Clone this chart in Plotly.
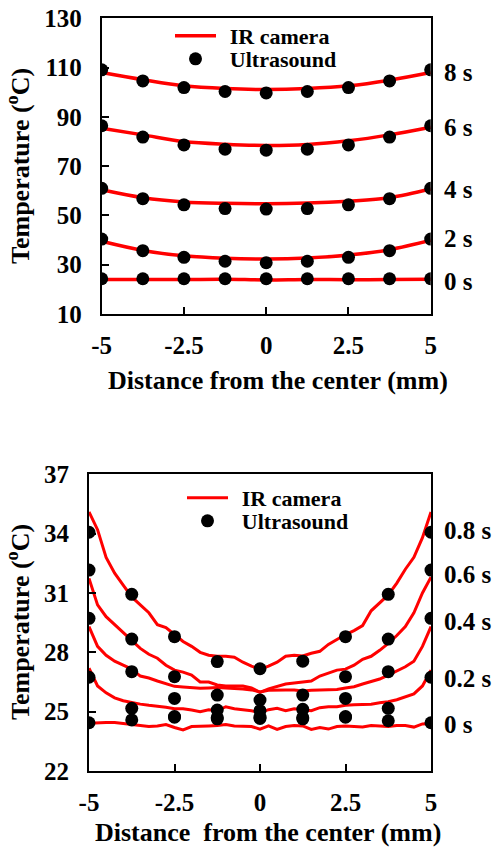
import plotly.graph_objects as go

# ---------------- data ----------------
x_pos = [-5, -3.75, -2.5, -1.25, 0, 1.25, 2.5, 3.75, 5]
x_ticks = [-5, -2.5, 0, 2.5, 5]
x_tick_text = ["-5", "-2.5", "0", "2.5", "5"]

# Top panel (0-8 s)
top_times = ["8 s", "6 s", "4 s", "2 s", "0 s"]
top_label_y = [108.2, 85.5, 60.4, 40.5, 23.1]
top_us = [
    [109.1, 104.6, 101.9, 100.3, 99.7, 100.3, 101.9, 104.6, 109.1],
    [86.4, 81.8, 78.6, 76.9, 76.5, 76.9, 78.6, 81.8, 86.4],
    [61.0, 56.8, 54.3, 52.8, 52.6, 52.8, 54.3, 56.8, 61.0],
    [40.4, 35.7, 33.0, 31.4, 30.8, 31.4, 33.0, 35.7, 40.4],
    [24.3, 24.3, 24.3, 24.3, 24.3, 24.3, 24.3, 24.3, 24.3],
]
top_ir = [
    [108.0, 105.1, 102.6, 101.5, 101.1, 101.5, 102.6, 104.9, 108.0],
    [85.4, 82.7, 80.0, 78.9, 78.4, 78.8, 80.3, 82.7, 85.8],
    [60.4, 57.2, 55.5, 54.9, 54.7, 55.0, 55.8, 57.2, 60.7],
    [39.5, 35.8, 33.6, 32.6, 32.3, 32.7, 33.9, 36.1, 39.9],
    [24.0, 24.0, 24.0, 24.1, 23.8, 24.0, 23.9, 24.0, 24.1],
]
top_yticks = [10, 30, 50, 70, 90, 110, 130]

# Bottom panel (0-0.8 s)
bot_times = ["0.8 s", "0.6 s", "0.4 s", "0.2 s", "0 s"]
bot_label_y = [34.18, 31.91, 29.58, 26.69, 24.33]
bot_us = [
    [34.07, 30.93, 28.79, 27.53, 27.17, 27.55, 28.79, 30.93, 34.07],
    [32.16, 28.67, 26.77, 25.84, 25.59, 25.84, 26.77, 28.67, 32.16],
    [29.72, 27.02, 25.67, 25.08, 25.05, 25.12, 25.67, 27.02, 29.72],
    [26.74, 25.17, 24.75, 24.70, 24.72, 24.70, 24.75, 25.17, 26.74],
    [24.44, 24.58, 24.72, 24.64, 24.66, 24.64, 24.72, 24.54, 24.44],
]
x_ir = [-5.0, -4.75, -4.5, -4.25, -4.0, -3.75, -3.5, -3.25, -3.0, -2.75,
        -2.5, -2.25, -2.0, -1.75, -1.5, -1.25, -1.0, -0.75, -0.5, -0.25,
        0.0, 0.25, 0.5, 0.75, 1.0, 1.25, 1.5, 1.75, 2.0, 2.25,
        2.5, 2.75, 3.0, 3.25, 3.5, 3.75, 4.0, 4.25, 4.5, 4.75, 5.0]
bot_ir = [
    [35.1, 34.2, 32.8, 32.0, 31.4, 30.8, 30.4, 30.0, 29.4, 29.25,
     28.9, 28.55, 28.3, 28.0, 27.85, 27.8, 27.8, 27.75, 27.5, 27.3,
     27.15, 27.3, 27.5, 27.8, 27.85, 27.82, 27.95, 28.05, 28.4, 28.65,
     28.9, 29.1, 29.35, 30.1, 30.5, 30.9, 31.5, 32.2, 32.8, 33.8, 35.1],
    [31.74, 30.4, 29.8, 29.4, 29.0, 28.55, 28.2, 27.9, 27.7, 27.35,
     27.1, 27.0, 26.85, 26.5, 26.5, 26.35, 26.3, 26.3, 26.3, 26.2,
     25.98, 26.15, 26.28, 26.4, 26.45, 26.5, 26.55, 26.8, 26.95, 27.1,
     27.15, 27.35, 27.65, 27.8, 28.1, 28.45, 28.85, 29.3, 30.0, 31.0, 31.8],
    [29.3, 28.3, 27.85, 27.55, 27.35, 27.15, 26.8, 26.7, 26.55, 26.4,
     26.28, 26.25, 26.22, 26.18, 26.2, 26.22, 26.2, 26.18, 26.15, 26.1,
     26.0, 26.08, 26.1, 26.1, 26.1, 26.05, 26.08, 26.1, 26.1, 26.12,
     26.2, 26.26, 26.4, 26.52, 26.65, 26.85, 27.05, 27.27, 27.55, 28.3, 29.3],
    [27.2, 26.3, 25.95, 25.7, 25.55, 25.45, 25.38, 25.32, 25.28, 25.22,
     25.15, 25.15, 25.08, 25.0, 25.1, 25.05, 25.25, 25.15, 25.1, 25.05,
     24.95, 25.1, 25.17, 25.05, 25.15, 25.1, 25.05, 25.2, 25.25, 25.25,
     25.32, 25.35, 25.38, 25.38, 25.45, 25.5, 25.6, 25.75, 25.9, 26.3, 27.1],
    [24.42, 24.45, 24.45, 24.45, 24.4, 24.35, 24.3, 24.25, 24.28, 24.35,
     24.2, 24.08, 24.25, 24.25, 24.28, 24.3, 24.35, 24.28, 24.25, 24.25,
     24.12, 24.28, 24.1, 24.25, 24.3, 24.28, 24.1, 24.2, 24.12, 24.25,
     24.28, 24.25, 24.22, 24.3, 24.28, 24.25, 24.3, 24.3, 24.22, 24.38, 24.4],
]
bot_yticks = [22, 25, 28, 31, 34, 37]

# ---------------- styling ----------------
FONT = "Liberation Serif"
RED = "#ff0000"
W, H = 496, 849
PAD = "\u2009\u2009"

fig = go.Figure()

def add_panel(xa, ya, ir_x, ir_vals, us_vals, legend_line, legend_dot, shape, lw):
    for i, vals in enumerate(ir_vals):
        fig.add_trace(go.Scatter(
            x=ir_x, y=vals, mode="lines", xaxis=xa, yaxis=ya,
            line=dict(color=RED, width=lw, shape=shape),
            name=PAD + "IR camera", showlegend=(i == 0), legend=legend_line,
            hoverinfo="skip"))
    for i, vals in enumerate(us_vals):
        fig.add_trace(go.Scatter(
            x=x_pos, y=vals, mode="markers", xaxis=xa, yaxis=ya,
            marker=dict(color="black", size=13),
            name=PAD + "Ultrasound", showlegend=(i == 0), legend=legend_dot,
            hoverinfo="skip"))

add_panel("x", "y", x_pos, top_ir, top_us, "legend", "legend2", "spline", 3.5)
add_panel("x2", "y2", x_ir, bot_ir, bot_us, "legend3", "legend4", "linear", 3)

axis_common = dict(
    showgrid=False, zeroline=False, showline=True, linecolor="black",
    linewidth=2, mirror=True, ticks="inside", ticklen=7, tickwidth=1.5,
    tickcolor="black", automargin=False,
    tickfont=dict(family=FONT, size=25, color="black", weight="bold"),
)

top_dom_x = [101.7 / W, 430.7 / W]
top_dom_y = [1 - 314 / H, 1 - 18.3 / H]
bot_dom_x = [89 / W, 431 / W]
bot_dom_y = [1 - 771 / H, 1 - 474.3 / H]

fig.update_layout(
    width=W, height=H,
    margin=dict(l=0, r=0, t=0, b=0, pad=0, autoexpand=False),
    paper_bgcolor="white", plot_bgcolor="white",
    xaxis=dict(domain=top_dom_x, range=[-5, 5], anchor="y",
               tickvals=x_ticks, ticktext=x_tick_text,
               ticklabelstandoff=8, **axis_common),
    yaxis=dict(domain=top_dom_y, range=[10, 130], anchor="x",
               tickvals=top_yticks, ticklabelstandoff=13, **axis_common),
    xaxis2=dict(domain=bot_dom_x, range=[-5, 5], anchor="y2",
                tickvals=x_ticks, ticktext=x_tick_text,
                ticklabelstandoff=8, **axis_common),
    yaxis2=dict(domain=bot_dom_y, range=[22, 37], anchor="x2",
                tickvals=bot_yticks, ticklabelstandoff=13, **axis_common),
)

leg_font = dict(family=FONT, size=22, color="black", weight="bold")
def leg(xpx, ypx):
    return dict(x=xpx / W, y=1 - ypx / H, xanchor="left", yanchor="middle",
                bgcolor="rgba(0,0,0,0)", borderwidth=0, font=leg_font,
                itemwidth=41, tracegroupgap=0)

fig.update_layout(
    legend=leg(170, 36), legend2=leg(170, 59),
    legend3=leg(182, 498), legend4=leg(182, 521),
)

ann = []
lab_font = dict(family=FONT, size=25, color="black", weight="bold")
for name, yv in zip(top_times, top_label_y):
    ann.append(dict(x=442 / W, xref="paper", y=yv, yref="y",
                    text=name, showarrow=False, xanchor="left",
                    yanchor="middle", font=lab_font))
for name, yv in zip(bot_times, bot_label_y):
    ann.append(dict(x=442 / W, xref="paper", y=yv, yref="y2",
                    text=name, showarrow=False, xanchor="left",
                    yanchor="middle", font=lab_font))

title_font = dict(family=FONT, size=26, color="black", weight="bold")
ann.append(dict(x=278 / W, y=1 - 380 / H, xref="paper", yref="paper",
                text="Distance from the center (mm)", showarrow=False,
                xanchor="center", yanchor="middle", font=title_font))
ann.append(dict(x=268 / W, y=0, xref="paper", yref="paper",
                text="Distance  from the center (mm)", showarrow=False,
                xanchor="center", yanchor="bottom", font=title_font))
ann.append(dict(x=18 / W, y=1 - 166 / H, xref="paper", yref="paper",
                text="Temperature (<sup>o</sup>C)", showarrow=False,
                textangle=-90, xanchor="center", yanchor="middle",
                font=title_font))
ann.append(dict(x=18 / W, y=1 - 622 / H, xref="paper", yref="paper",
                text="Temperature (<sup>o</sup>C)", showarrow=False,
                textangle=-90, xanchor="center", yanchor="middle",
                font=title_font))
fig.update_layout(annotations=ann)

fig.write_html("out.html",
               config={"displayModeBar": False},
               post_script="document.body.style.margin='0';"
                           "document.body.style.overflow='hidden';")
